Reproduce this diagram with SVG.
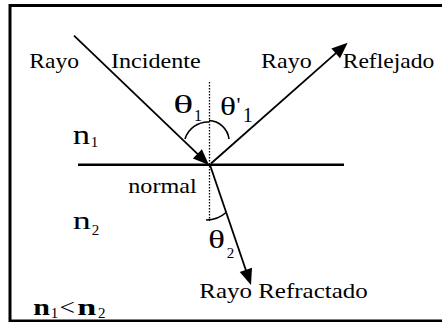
<svg xmlns="http://www.w3.org/2000/svg" width="442" height="322" viewBox="0 0 442 322">
<rect x="0" y="0" width="442" height="322" fill="#fff"/>
<rect id="frame" x="10" y="5.5" width="445" height="315.5" fill="none" stroke="#000" stroke-width="3"/>
<g id="interface">
<line x1="78" y1="164.7" x2="344" y2="164.7" stroke="#000" stroke-width="2.5"/>
</g>
<g id="connectors" stroke="#000" stroke-width="1.8">
<line x1="74" y1="35.7" x2="198" y2="154.4"/>
<polygon points="209,165 192.9,158.6 201.9,149.2" stroke="none" fill="#000"/>
<line x1="211" y1="163.5" x2="336.5" y2="52.6"/>
<polygon points="347.7,42.7 340,58.2 331.4,48.4" stroke="none" fill="#000"/>
<line x1="210" y1="165" x2="246" y2="270.5"/>
<polygon points="251,285 239.7,272 252,267.8" stroke="none" fill="#000"/>
</g>
<g id="angles" stroke="#000" stroke-width="1.6" fill="none">
<path d="M185,139 A24,24 0 0 1 209,122"/>
<path d="M209,120.5 A21,21 0 0 1 229,139"/>
<path d="M206,220 Q218,220 226,212.5"/>
</g>
<g id="normal">
<line x1="209.5" y1="82" x2="209.5" y2="221" stroke="#000" stroke-width="1.3" stroke-dasharray="1.5,1.5"/>
<text x="128.3" y="192.7" style="font-family:'Liberation Serif',serif;font-size:22px" textLength="68.3" lengthAdjust="spacingAndGlyphs">normal</text>
</g>
<g id="incident-label">
<text x="29.3" y="68.3" style="font-family:'Liberation Serif',serif;font-size:22px" textLength="49.7" lengthAdjust="spacingAndGlyphs">Rayo</text>
<text x="111" y="68.3" style="font-family:'Liberation Serif',serif;font-size:22px" textLength="89.7" lengthAdjust="spacingAndGlyphs">Incidente</text>
</g>
<g id="reflected-label">
<text x="261" y="68.3" style="font-family:'Liberation Serif',serif;font-size:22px" textLength="50.7" lengthAdjust="spacingAndGlyphs">Rayo</text>
<text x="342.7" y="68.3" style="font-family:'Liberation Serif',serif;font-size:22px" textLength="91.6" lengthAdjust="spacingAndGlyphs">Reflejado</text>
</g>
<g id="refracted-label">
<text x="199.3" y="297.7" style="font-family:'Liberation Serif',serif;font-size:22px" textLength="168.4" lengthAdjust="spacingAndGlyphs">Rayo Refractado</text>
</g>
<g id="theta1">
<text x="173.3" y="113.3" style="font-family:'Liberation Serif',serif;font-size:26px" textLength="20" lengthAdjust="spacingAndGlyphs">θ</text>
<text x="194" y="121" style="font-family:'Liberation Serif',serif;font-size:16px">1</text>
</g>
<g id="theta1p">
<text x="220" y="115" style="font-family:'Liberation Serif',serif;font-size:26px" textLength="16" lengthAdjust="spacingAndGlyphs">θ</text>
<text x="236.5" y="112" style="font-family:'Liberation Serif',serif;font-size:22px">'</text>
<text x="242.7" y="121.7" style="font-family:'Liberation Serif',serif;font-size:21px" textLength="10" lengthAdjust="spacingAndGlyphs">1</text>
</g>
<g id="theta2">
<text x="208.3" y="248.3" style="font-family:'Liberation Serif',serif;font-size:26px" textLength="16.7" lengthAdjust="spacingAndGlyphs">θ</text>
<text x="226.7" y="258.3" style="font-family:'Liberation Serif',serif;font-size:15px">2</text>
</g>
<g id="n1">
<text x="72.7" y="144" style="font-family:'Liberation Serif',serif;font-size:27px" textLength="17.3" lengthAdjust="spacingAndGlyphs">n</text>
<text x="90.7" y="146.7" style="font-family:'Liberation Serif',serif;font-size:15px">1</text>
</g>
<g id="n2">
<text x="72.7" y="229.3" style="font-family:'Liberation Serif',serif;font-size:26px" textLength="18" lengthAdjust="spacingAndGlyphs">n</text>
<text x="91.7" y="235" style="font-family:'Liberation Serif',serif;font-size:15px">2</text>
</g>
<g id="relation">
<text x="33.3" y="315" style="font-family:'Liberation Serif',serif;font-size:23px;font-weight:bold" textLength="16.7" lengthAdjust="spacingAndGlyphs">n</text>
<text x="50.7" y="317.7" style="font-family:'Liberation Serif',serif;font-size:15px">1</text>
<text x="59.5" y="315" style="font-family:'Liberation Serif',serif;font-size:23px" textLength="15.5" lengthAdjust="spacingAndGlyphs">&lt;</text>
<text x="77.3" y="315" style="font-family:'Liberation Serif',serif;font-size:23px;font-weight:bold" textLength="19" lengthAdjust="spacingAndGlyphs">n</text>
<text x="98" y="317.7" style="font-family:'Liberation Serif',serif;font-size:15px">2</text>
</g>
</svg>
